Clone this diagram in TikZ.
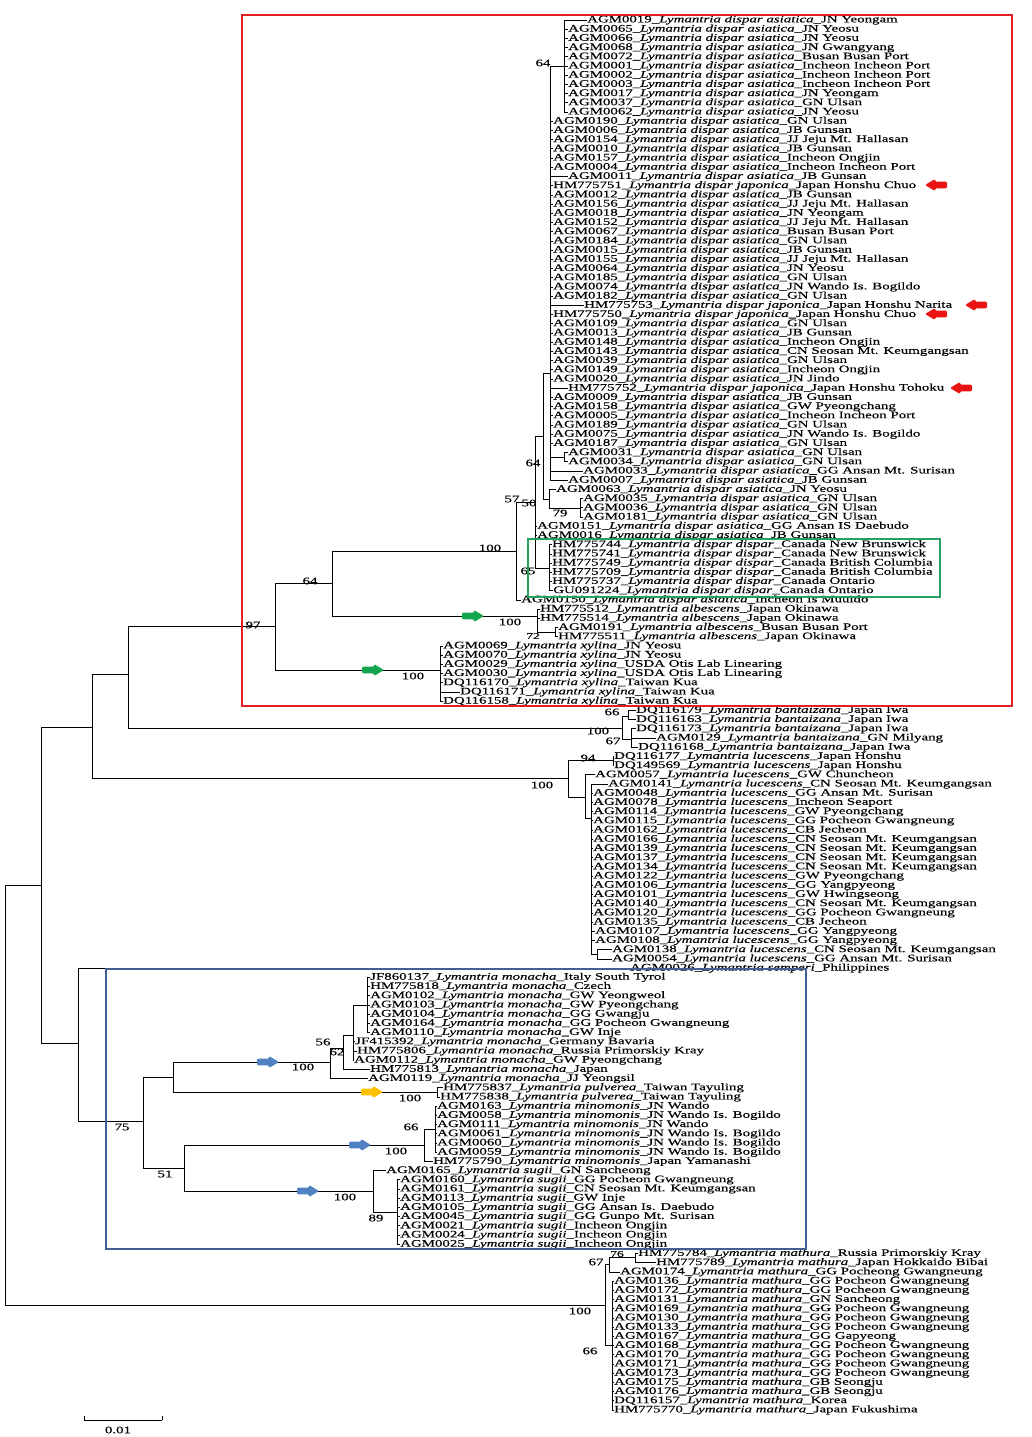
\documentclass[tikz,border=0pt]{standalone}
\usepackage{fontspec}
\setmainfont{Liberation Serif}[FakeStretch=1.49,FakeBold=0.25]
\definecolor{boxred}{RGB}{226,32,36}
\definecolor{boxgreen}{RGB}{40,160,95}
\definecolor{boxblue}{RGB}{66,96,145}
\definecolor{arrred}{RGB}{235,20,20}
\definecolor{arrgreen}{RGB}{20,165,80}
\definecolor{arrblue}{RGB}{80,130,195}
\definecolor{arryellow}{RGB}{255,192,0}
\newcommand\Lf[5]{\node[leaf] (l#1) at (#2,{20+(#1-1)*9.205}) {#3\_\textit{Lymantria #4}\_#5};}
\begin{document}
\begin{tikzpicture}[x=1pt,y=-1pt,
  leaf/.style={anchor=west,inner sep=0pt,font=\fontsize{10}{10}\selectfont},
  bs/.style={inner sep=0pt,font=\fontsize{10}{10}\selectfont},
  bss/.style={inner sep=0pt,font=\fontsize{9}{9}\selectfont},
  br/.style={line width=0.75pt,black},
  fatarrow/.pic={\fill[rounded corners=1.2pt] (-11,-3.3) -- (1,-3.3) -- (1,-6) -- (11,0) -- (1,6) -- (1,3.3) -- (-11,3.3) -- cycle;}]
\fill[white] (0,0) rectangle (1031,1437);
\useasboundingbox (0,0) rectangle (1031,1437);
% ---------------- leaves ----------------
\Lf{1}{587}{AGM0019}{dispar asiatica}{JN Yeongam}
\Lf{2}{568}{AGM0065}{dispar asiatica}{JN Yeosu}
\Lf{3}{568}{AGM0066}{dispar asiatica}{JN Yeosu}
\Lf{4}{568}{AGM0068}{dispar asiatica}{JN Gwangyang}
\Lf{5}{568}{AGM0072}{dispar asiatica}{Busan Busan Port}
\Lf{6}{568}{AGM0001}{dispar asiatica}{Incheon Incheon Port}
\Lf{7}{568}{AGM0002}{dispar asiatica}{Incheon Incheon Port}
\Lf{8}{568}{AGM0003}{dispar asiatica}{Incheon Incheon Port}
\Lf{9}{568}{AGM0017}{dispar asiatica}{JN Yeongam}
\Lf{10}{568}{AGM0037}{dispar asiatica}{GN Ulsan}
\Lf{11}{568}{AGM0062}{dispar asiatica}{JN Yeosu}
\Lf{12}{553}{AGM0190}{dispar asiatica}{GN Ulsan}
\Lf{13}{553}{AGM0006}{dispar asiatica}{JB Gunsan}
\Lf{14}{553}{AGM0154}{dispar asiatica}{JJ Jeju Mt. Hallasan}
\Lf{15}{553}{AGM0010}{dispar asiatica}{JB Gunsan}
\Lf{16}{553}{AGM0157}{dispar asiatica}{Incheon Ongjin}
\Lf{17}{553}{AGM0004}{dispar asiatica}{Incheon Incheon Port}
\Lf{18}{568}{AGM0011}{dispar asiatica}{JB Gunsan}
\Lf{19}{553}{HM775751}{dispar japonica}{Japan Honshu Chuo}
\Lf{20}{553}{AGM0012}{dispar asiatica}{JB Gunsan}
\Lf{21}{553}{AGM0156}{dispar asiatica}{JJ Jeju Mt. Hallasan}
\Lf{22}{553}{AGM0018}{dispar asiatica}{JN Yeongam}
\Lf{23}{553}{AGM0152}{dispar asiatica}{JJ Jeju Mt. Hallasan}
\Lf{24}{553}{AGM0067}{dispar asiatica}{Busan Busan Port}
\Lf{25}{553}{AGM0184}{dispar asiatica}{GN Ulsan}
\Lf{26}{553}{AGM0015}{dispar asiatica}{JB Gunsan}
\Lf{27}{553}{AGM0155}{dispar asiatica}{JJ Jeju Mt. Hallasan}
\Lf{28}{553}{AGM0064}{dispar asiatica}{JN Yeosu}
\Lf{29}{553}{AGM0185}{dispar asiatica}{GN Ulsan}
\Lf{30}{553}{AGM0074}{dispar asiatica}{JN Wando Is. Bogildo}
\Lf{31}{553}{AGM0182}{dispar asiatica}{GN Ulsan}
\Lf{32}{584}{HM775753}{dispar japonica}{Japan Honshu Narita}
\Lf{33}{553}{HM775750}{dispar japonica}{Japan Honshu Chuo}
\Lf{34}{553}{AGM0109}{dispar asiatica}{GN Ulsan}
\Lf{35}{553}{AGM0013}{dispar asiatica}{JB Gunsan}
\Lf{36}{553}{AGM0148}{dispar asiatica}{Incheon Ongjin}
\Lf{37}{553}{AGM0143}{dispar asiatica}{CN Seosan Mt. Keumgangsan}
\Lf{38}{553}{AGM0039}{dispar asiatica}{GN Ulsan}
\Lf{39}{553}{AGM0149}{dispar asiatica}{Incheon Ongjin}
\Lf{40}{553}{AGM0020}{dispar asiatica}{JN Jindo}
\Lf{41}{568}{HM775752}{dispar japonica}{Japan Honshu Tohoku}
\Lf{42}{553}{AGM0009}{dispar asiatica}{JB Gunsan}
\Lf{43}{553}{AGM0158}{dispar asiatica}{GW Pyeongchang}
\Lf{44}{553}{AGM0005}{dispar asiatica}{Incheon Incheon Port}
\Lf{45}{553}{AGM0189}{dispar asiatica}{GN Ulsan}
\Lf{46}{553}{AGM0075}{dispar asiatica}{JN Wando Is. Bogildo}
\Lf{47}{553}{AGM0187}{dispar asiatica}{GN Ulsan}
\Lf{48}{568}{AGM0031}{dispar asiatica}{GN Ulsan}
\Lf{49}{568}{AGM0034}{dispar asiatica}{GN Ulsan}
\Lf{50}{583}{AGM0033}{dispar asiatica}{GG Ansan Mt. Surisan}
\Lf{51}{568}{AGM0007}{dispar asiatica}{JB Gunsan}
\Lf{52}{556}{AGM0063}{dispar asiatica}{JN Yeosu}
\Lf{53}{583}{AGM0035}{dispar asiatica}{GN Ulsan}
\Lf{54}{583}{AGM0036}{dispar asiatica}{GN Ulsan}
\Lf{55}{583}{AGM0181}{dispar asiatica}{GN Ulsan}
\Lf{56}{537}{AGM0151}{dispar asiatica}{GG Ansan IS Daebudo}
\Lf{57}{537}{AGM0016}{dispar asiatica}{JB Gunsan}
\Lf{58}{552}{HM775744}{dispar dispar}{Canada New Brunswick}
\Lf{59}{552}{HM775741}{dispar dispar}{Canada New Brunswick}
\Lf{60}{552}{HM775749}{dispar dispar}{Canada British Columbia}
\Lf{61}{552}{HM775709}{dispar dispar}{Canada British Columbia}
\Lf{62}{552}{HM775737}{dispar dispar}{Canada Ontario}
\Lf{63}{553}{GU091224}{dispar dispar}{Canada Ontario}
\Lf{64}{521}{AGM0150}{dispar asiatica}{Incheon Is Muuido}
\Lf{65}{540}{HM775512}{albescens}{Japan Okinawa}
\Lf{66}{540}{HM775514}{albescens}{Japan Okinawa}
\Lf{67}{558}{AGM0191}{albescens}{Busan Busan Port}
\Lf{68}{558}{HM775511}{albescens}{Japan Okinawa}
\Lf{69}{443}{AGM0069}{xylina}{JN Yeosu}
\Lf{70}{443}{AGM0070}{xylina}{JN Yeosu}
\Lf{71}{443}{AGM0029}{xylina}{USDA Otis Lab Linearing}
\Lf{72}{443}{AGM0030}{xylina}{USDA Otis Lab Linearing}
\Lf{73}{443}{DQ116170}{xylina}{Taiwan Kua}
\Lf{74}{460}{DQ116171}{xylina}{Taiwan Kua}
\Lf{75}{443}{DQ116158}{xylina}{Taiwan Kua}
\Lf{76}{636}{DQ116179}{bantaizana}{Japan Iwa}
\Lf{77}{636}{DQ116163}{bantaizana}{Japan Iwa}
\Lf{78}{636}{DQ116173}{bantaizana}{Japan Iwa}
\Lf{79}{656}{AGM0129}{bantaizana}{GN Milyang}
\Lf{80}{638}{DQ116168}{bantaizana}{Japan Iwa}
\Lf{81}{614}{DQ116177}{lucescens}{Japan Honshu}
\Lf{82}{614}{DQ149569}{lucescens}{Japan Honshu}
\Lf{83}{595}{AGM0057}{lucescens}{GW Chuncheon}
\Lf{84}{608}{AGM0141}{lucescens}{CN Seosan Mt. Keumgangsan}
\Lf{85}{593}{AGM0048}{lucescens}{GG Ansan Mt. Surisan}
\Lf{86}{593}{AGM0078}{lucescens}{Incheon Seaport}
\Lf{87}{593}{AGM0114}{lucescens}{GW Pyeongchang}
\Lf{88}{593}{AGM0115}{lucescens}{GG Pocheon Gwangneung}
\Lf{89}{593}{AGM0162}{lucescens}{CB Jecheon}
\Lf{90}{593}{AGM0166}{lucescens}{CN Seosan Mt. Keumgangsan}
\Lf{91}{593}{AGM0139}{lucescens}{CN Seosan Mt. Keumgangsan}
\Lf{92}{593}{AGM0137}{lucescens}{CN Seosan Mt. Keumgangsan}
\Lf{93}{593}{AGM0134}{lucescens}{CN Seosan Mt. Keumgangsan}
\Lf{94}{593}{AGM0122}{lucescens}{GW Pyeongchang}
\Lf{95}{593}{AGM0106}{lucescens}{GG Yangpyeong}
\Lf{96}{593}{AGM0101}{lucescens}{GW Hwingseong}
\Lf{97}{593}{AGM0140}{lucescens}{CN Seosan Mt. Keumgangsan}
\Lf{98}{593}{AGM0120}{lucescens}{GG Pocheon Gwangneung}
\Lf{99}{593}{AGM0135}{lucescens}{CB Jecheon}
\Lf{100}{595}{AGM0107}{lucescens}{GG Yangpyeong}
\Lf{101}{595}{AGM0108}{lucescens}{GG Yangpyeong}
\Lf{102}{612}{AGM0138}{lucescens}{CN Seosan Mt. Keumgangsan}
\Lf{103}{612}{AGM0054}{lucescens}{GG Ansan Mt. Surisan}
\Lf{104}{630}{AGM0026}{semperi}{Philippines}
\Lf{105}{370}{JF860137}{monacha}{Italy South Tyrol}
\Lf{106}{370}{HM775818}{monacha}{Czech}
\Lf{107}{370}{AGM0102}{monacha}{GW Yeongweol}
\Lf{108}{370}{AGM0103}{monacha}{GW Pyeongchang}
\Lf{109}{370}{AGM0104}{monacha}{GG Gwangju}
\Lf{110}{370}{AGM0164}{monacha}{GG Pocheon Gwangneung}
\Lf{111}{370}{AGM0110}{monacha}{GW Inje}
\Lf{112}{355}{JF415392}{monacha}{Germany Bavaria}
\Lf{113}{357}{HM775806}{monacha}{Russia Primorskiy Kray}
\Lf{114}{354}{AGM0112}{monacha}{GW Pyeongchang}
\Lf{115}{370}{HM775813}{monacha}{Japan}
\Lf{116}{368}{AGM0119}{monacha}{JJ Yeongsil}
\Lf{117}{443}{HM775837}{pulverea}{Taiwan Tayuling}
\Lf{118}{440}{HM775838}{pulverea}{Taiwan Tayuling}
\Lf{119}{437}{AGM0163}{minomonis}{JN Wando}
\Lf{120}{437}{AGM0058}{minomonis}{JN Wando Is. Bogildo}
\Lf{121}{437}{AGM0111}{minomonis}{JN Wando}
\Lf{122}{437}{AGM0061}{minomonis}{JN Wando Is. Bogildo}
\Lf{123}{437}{AGM0060}{minomonis}{JN Wando Is. Bogildo}
\Lf{124}{437}{AGM0059}{minomonis}{JN Wando Is. Bogildo}
\Lf{125}{433}{HM775790}{minomonis}{Japan Yamanashi}
\Lf{126}{386}{AGM0165}{sugii}{GN Sancheong}
\Lf{127}{400}{AGM0160}{sugii}{GG Pocheon Gwangneung}
\Lf{128}{400}{AGM0161}{sugii}{CN Seosan Mt. Keumgangsan}
\Lf{129}{400}{AGM0113}{sugii}{GW Inje}
\Lf{130}{400}{AGM0105}{sugii}{GG Ansan Is. Daebudo}
\Lf{131}{400}{AGM0045}{sugii}{GG Gunpo Mt. Surisan}
\Lf{132}{400}{AGM0021}{sugii}{Incheon Ongjin}
\Lf{133}{400}{AGM0024}{sugii}{Incheon Ongjin}
\Lf{134}{400}{AGM0025}{sugii}{Incheon Ongjin}
\Lf{135}{638}{HM775784}{mathura}{Russia Primorskiy Kray}
\Lf{136}{656}{HM775789}{mathura}{Japan Hokkaido Bibai}
\Lf{137}{620}{AGM0174}{mathura}{GG Pocheong Gwangneung}
\Lf{138}{614}{AGM0136}{mathura}{GG Pocheon Gwangneung}
\Lf{139}{614}{AGM0172}{mathura}{GG Pocheon Gwangneung}
\Lf{140}{614}{AGM0131}{mathura}{GN Sancheong}
\Lf{141}{614}{AGM0169}{mathura}{GG Pocheon Gwangneung}
\Lf{142}{614}{AGM0130}{mathura}{GG Pocheon Gwangneung}
\Lf{143}{614}{AGM0133}{mathura}{GG Pocheon Gwangneung}
\Lf{144}{614}{AGM0167}{mathura}{GG Gapyeong}
\Lf{145}{614}{AGM0168}{mathura}{GG Pocheon Gwangneung}
\Lf{146}{614}{AGM0170}{mathura}{GG Pocheon Gwangneung}
\Lf{147}{614}{AGM0171}{mathura}{GG Pocheon Gwangneung}
\Lf{148}{614}{AGM0173}{mathura}{GG Pocheon Gwangneung}
\Lf{149}{614}{AGM0175}{mathura}{GB Seongju}
\Lf{150}{614}{AGM0176}{mathura}{GB Seongju}
\Lf{151}{614}{DQ116157}{mathura}{Korea}
\Lf{152}{614}{HM775770}{mathura}{Japan Fukushima}
% ---------------- internal nodes ----------------
\coordinate (t64) at (564,66);
\coordinate (q) at (550,373);
\coordinate (t31) at (564,457);
\coordinate (c79) at (580,508);
\coordinate (s) at (549,499);
\coordinate (p) at (543,436);
\coordinate (hm) at (549,568);
\coordinate (b) at (535,502);
\coordinate (a) at (516,551);
\coordinate (e) at (555,632);
\coordinate (d) at (537,616);
\coordinate (f) at (332,583);
\coordinate (g) at (440,670);
\coordinate (h) at (275,626);
\coordinate (j66) at (628,716);
\coordinate (j67) at (631,739);
\coordinate (j) at (622,728);
\coordinate (i) at (128,674);
\coordinate (n94) at (613,760);
\coordinate (r) at (597,954);
\coordinate (pn) at (591,818);
\coordinate (o) at (585,797);
\coordinate (m) at (568,778);
\coordinate (ix) at (92,727);
\coordinate (w) at (367,1005);
\coordinate (v) at (353,1035);
\coordinate (u) at (343,1048);
\coordinate (mo) at (330,1062);
\coordinate (pu) at (437,1092);
\coordinate (mp) at (173,1077);
\coordinate (z66) at (435,1129);
\coordinate (yy) at (424,1145);
\coordinate (sg2) at (397,1212);
\coordinate (sg) at (373,1191);
\coordinate (n51) at (184,1168);
\coordinate (n75) at (143,1121);
\coordinate (lo) at (78,1043);
\coordinate (up) at (41,885);
\coordinate (md) at (635,1257);
\coordinate (mb) at (609,1264);
\coordinate (mc) at (612,1345);
\coordinate (ma) at (605,1305);
\coordinate (root) at (5,1095);
% ---------------- branches ----------------
\foreach \k in {1,...,11} {\draw[br] (t64) |- (l\k.west);}
\draw[br] (q) |- (t64);
\foreach \k in {12,...,47} {\draw[br] (q) |- (l\k.west);}
\draw[br] (q) |- (t31);
\foreach \k in {48,49} {\draw[br] (t31) |- (l\k.west);}
\draw[br] (q) |- (l50.west);
\draw[br] (q) |- (l51.west);
\draw[br] (s) |- (l52.west);
\draw[br] (s) |- (c79);
\foreach \k in {53,54,55} {\draw[br] (c79) |- (l\k.west);}
\draw[br] (p) |- (q);
\draw[br] (p) |- (s);
\foreach \k in {58,...,63} {\draw[br] (hm) |- (l\k.west);}
\draw[br] (b) |- (p);
\draw[br] (b) |- (l56.west);
\draw[br] (b) |- (l57.west);
\draw[br] (b) |- (hm);
\draw[br] (a) |- (b);
\draw[br] (a) |- (l64.west);
\draw[br] (e) |- (l67.west);
\draw[br] (e) |- (l68.west);
\draw[br] (d) |- (l65.west);
\draw[br] (d) |- (l66.west);
\draw[br] (d) |- (e);
\draw[br] (f) |- (a);
\draw[br] (f) |- (d);
\foreach \k in {69,...,75} {\draw[br] (g) |- (l\k.west);}
\draw[br] (h) |- (f);
\draw[br] (h) |- (g);
\draw[br] (j66) |- (l76.west);
\draw[br] (j66) |- (l77.west);
\foreach \k in {78,79,80} {\draw[br] (j67) |- (l\k.west);}
\draw[br] (j) |- (j66);
\draw[br] (j) |- (j67);
\draw[br] (i) |- (h);
\draw[br] (i) |- (j);
\draw[br] (n94) |- (l81.west);
\draw[br] (n94) |- (l82.west);
\draw[br] (r) |- (l102.west);
\draw[br] (r) |- (l103.west);
\foreach \k in {84,...,101} {\draw[br] (pn) |- (l\k.west);}
\draw[br] (pn) |- (r);
\draw[br] (o) |- (l83.west);
\draw[br] (o) |- (pn);
\draw[br] (m) |- (n94);
\draw[br] (m) |- (o);
\draw[br] (ix) |- (i);
\draw[br] (ix) |- (m);
\foreach \k in {105,...,111} {\draw[br] (w) |- (l\k.west);}
\draw[br] (v) |- (w);
\foreach \k in {112,113,114} {\draw[br] (v) |- (l\k.west);}
\draw[br] (u) |- (v);
\draw[br] (u) |- (l115.west);
\draw[br] (mo) |- (u);
\draw[br] (mo) |- (l116.west);
\draw[br] (pu) |- (l117.west);
\draw[br] (pu) |- (l118.west);
\draw[br] (mp) |- (mo);
\draw[br] (mp) |- (pu);
\foreach \k in {119,...,124} {\draw[br] (z66) |- (l\k.west);}
\draw[br] (yy) |- (z66);
\draw[br] (yy) |- (l125.west);
\foreach \k in {127,...,134} {\draw[br] (sg2) |- (l\k.west);}
\draw[br] (sg) |- (l126.west);
\draw[br] (sg) |- (sg2);
\draw[br] (n51) |- (yy);
\draw[br] (n51) |- (sg);
\draw[br] (n75) |- (mp);
\draw[br] (n75) |- (n51);
\draw[br] (lo) |- (l104.west);
\draw[br] (lo) |- (n75);
\draw[br] (up) |- (ix);
\draw[br] (up) |- (lo);
\draw[br] (md) |- (l135.west);
\draw[br] (md) |- (l136.west);
\draw[br] (mb) |- (md);
\draw[br] (mb) |- (l137.west);
\foreach \k in {138,...,152} {\draw[br] (mc) |- (l\k.west);}
\draw[br] (ma) |- (mb);
\draw[br] (ma) |- (mc);
\draw[br] (root) |- (up);
\draw[br] (root) |- (ma);
% ---------------- bootstrap values ----------------
\node[bs] (bs1) at (543,63) {64};
\node[bs] (bs2) at (533,463) {64};
\node[bs] (bs3) at (512,499) {57};
\node[bs] (bs4) at (529,503) {50};
\node[bs] (bs5) at (560,513) {79};
\node[bs] (bs6) at (490,548) {100};
\node[bs] (bs7) at (528,571) {65};
\node[bs] (bs8) at (310,581) {64};
\node[bs] (bs9) at (253,625) {97};
\node[bs] (bs10) at (510,622) {100};
\node[bss] (bs11) at (533,636) {72};
\node[bs] (bs12) at (413,676) {100};
\node[bs] (bs13) at (612,712) {66};
\node[bs] (bs14) at (598,731) {100};
\node[bs] (bs15) at (613,741) {67};
\node[bs] (bs16) at (588,758) {94};
\node[bs] (bs17) at (542,785) {100};
\node[bs] (bs18) at (323,1042) {56};
\node[bs] (bs19) at (337,1052) {62};
\node[bs] (bs20) at (303,1067) {100};
\node[bs] (bs21) at (410,1098) {100};
\node[bs] (bs22) at (411,1127) {66};
\node[bs] (bs23) at (396,1151) {100};
\node[bs] (bs24) at (122,1127) {75};
\node[bs] (bs25) at (165,1174) {51};
\node[bs] (bs26) at (345,1197) {100};
\node[bs] (bs27) at (376,1218) {89};
\node[bss] (bs28) at (617,1254) {76};
\node[bs] (bs29) at (596,1262) {67};
\node[bs] (bs30) at (580,1311) {100};
\node[bs] (bs31) at (590,1351) {66};
% ---------------- arrows ----------------
\pic[color=arrred,xscale=-1] at (936,185) {fatarrow};
\pic[color=arrred,xscale=-1] at (976,305) {fatarrow};
\pic[color=arrred,xscale=-1] at (936,314) {fatarrow};
\pic[color=arrred,xscale=-1] at (961,388) {fatarrow};
\pic[color=arrgreen] at (473,616) {fatarrow};
\pic[color=arrgreen] at (373,670) {fatarrow};
\pic[color=arrblue] at (268,1062) {fatarrow};
\pic[color=arrblue] at (360,1145) {fatarrow};
\pic[color=arrblue] at (308,1191) {fatarrow};
\pic[color=arryellow] at (372,1092) {fatarrow};
% ---------------- boxes ----------------
\draw[boxred,line width=2pt] (242,15) rectangle (1012,706);
\draw[boxgreen,line width=1.6pt] (528,539) rectangle (940,597);
\draw[boxblue,line width=2pt] (106,969) rectangle (806,1249);
% ---------------- scale bar ----------------
\coordinate (sb1) at (84,1420);
\coordinate (sb2) at (162,1420);
\draw[br] (sb1) -- (sb2);
\draw[br] (sb1) -- ++(0,-4);
\draw[br] (sb2) -- ++(0,-4);
\node[bs] (sbl) at (118,1430) {0.01};
\end{tikzpicture}
\end{document}
